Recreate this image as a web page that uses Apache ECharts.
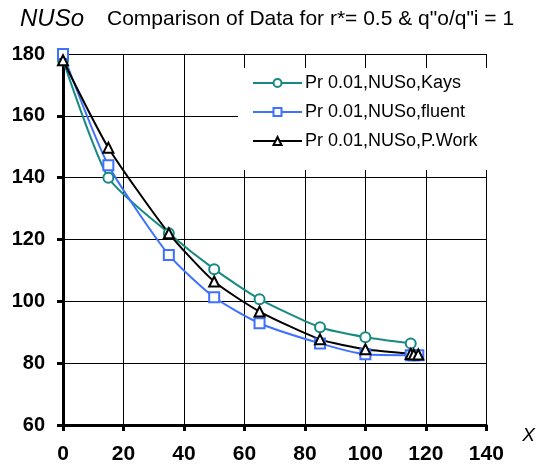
<!DOCTYPE html>
<html>
<head>
<meta charset="utf-8">
<script src="https://cdn.jsdelivr.net/npm/echarts@6/dist/echarts.min.js"></script>
<style>
  html, body { margin: 0; padding: 0; background: #fff; }
  #chart { width: 538px; height: 471px; }
</style>
</head>
<body>
<div id="chart"></div>
<script>
// values
const kaysX = [0, 15, 35, 50, 65, 85, 100, 115];
const kaysY = [178, 140, 122, 110.4, 100.7, 91.6, 88.4, 86.4];

const fluentX = [0, 15, 35, 50, 65, 85, 100, 115, 116, 117.5];
const fluentY = [180, 144, 115, 101.3, 92.9, 86.4, 82.9, 82.6, 82.6, 82.6];

const workX = [0, 15, 35, 50, 65, 85, 100, 115, 116, 117.5];
const workY = [178, 149.7, 122, 106.4, 96.7, 87.7, 84.5, 83, 82.8, 82.8];

const xTicks = { min: 0, max: 140, step: 20 };
const yTicks = { min: 60, max: 180, step: 20 };

const pairs = (xs, ys) => xs.map((x, i) => [x, ys[i]]);

const FONT = "'Liberation Sans', Arial, sans-serif";

const chart = echarts.init(document.getElementById("chart"));

const option = {
  backgroundColor: "#fff",
  animation: false,
  title: [
    {
      text: "NUSo",
      left: 15,
      top: 2,
      textStyle: { fontFamily: FONT, fontSize: 24, fontStyle: "italic", fontWeight: "normal", color: "#000" },
    },
    {
      text: "Comparison of Data for r*= 0.5 & q\"o/q\"i = 1",
      left: 102,
      top: 4,
      textStyle: { fontFamily: FONT, fontSize: 21, fontWeight: "normal", color: "#000" },
    },
  ],
  legend: {
    data: ["Pr 0.01,NUSo,Kays", "Pr 0.01,NUSo,fluent", "Pr 0.01,NUSo,P.Work"],
    orient: "vertical",
    left: 238,
    top: 68,
    padding: [6, 40, 20, 14],
    backgroundColor: "#fff",
    itemWidth: 49,
    itemHeight: 10,
    itemGap: 11,
    selectedMode: false,
    textStyle: { fontFamily: FONT, fontSize: 18, color: "#000", padding: [0, 0, 0, -2] },
  },
  grid: { left: 63, right: 49, top: 54, bottom: 46 },
  xAxis: {
    type: "value",
    min: xTicks.min,
    max: xTicks.max,
    interval: xTicks.step,
    name: "X",
    nameLocation: "end",
    nameGap: 36,
    nameTextStyle: { fontFamily: FONT, fontSize: 19, fontStyle: "italic", color: "#000", verticalAlign: "top", padding: [1, 0, 0, 0] },
    axisLine: { show: true, lineStyle: { color: "#000", width: 3 } },
    axisTick: { show: true, length: 6, lineStyle: { color: "#000", width: 3 } },
    axisLabel: { fontFamily: FONT, fontSize: 21, fontWeight: "bold", color: "#000", margin: 19 },
    splitLine: { show: true, lineStyle: { color: "#000", width: 1 } },
  },
  yAxis: {
    type: "value",
    min: yTicks.min,
    max: yTicks.max,
    interval: yTicks.step,
    axisLine: { show: true, lineStyle: { color: "#000", width: 3 } },
    axisTick: { show: true, length: 6, lineStyle: { color: "#000", width: 3 } },
    axisLabel: { fontFamily: FONT, fontSize: 20, fontWeight: "bold", color: "#000", margin: 18 },
    splitLine: { show: true, lineStyle: { color: "#000", width: 1 } },
  },
  series: [
    {
      name: "Pr 0.01,NUSo,Kays",
      type: "line",
      data: pairs(kaysX, kaysY),
      smooth: 0.2,
      symbol: "emptyCircle",
      symbolSize: 10,
      color: "#168a80",
      lineStyle: { width: 2, color: "#168a80" },
      itemStyle: { color: "#168a80", borderWidth: 2 },
    },
    {
      name: "Pr 0.01,NUSo,fluent",
      type: "line",
      data: pairs(fluentX, fluentY),
      smooth: 0.2,
      symbol: "emptyRect",
      symbolSize: 10,
      color: "#3f70ff",
      lineStyle: { width: 2, color: "#3f70ff" },
      itemStyle: { color: "#3f70ff", borderWidth: 2 },
    },
    {
      name: "Pr 0.01,NUSo,P.Work",
      type: "line",
      data: pairs(workX, workY),
      smooth: 0.2,
      symbol: "emptyTriangle",
      symbolSize: 10,
      color: "#000",
      lineStyle: { width: 2, color: "#000" },
      itemStyle: { color: "#000", borderWidth: 2 },
    },
  ],
};

chart.setOption(option);
window.addEventListener("resize", () => chart.resize());
</script>
</body>
</html>
